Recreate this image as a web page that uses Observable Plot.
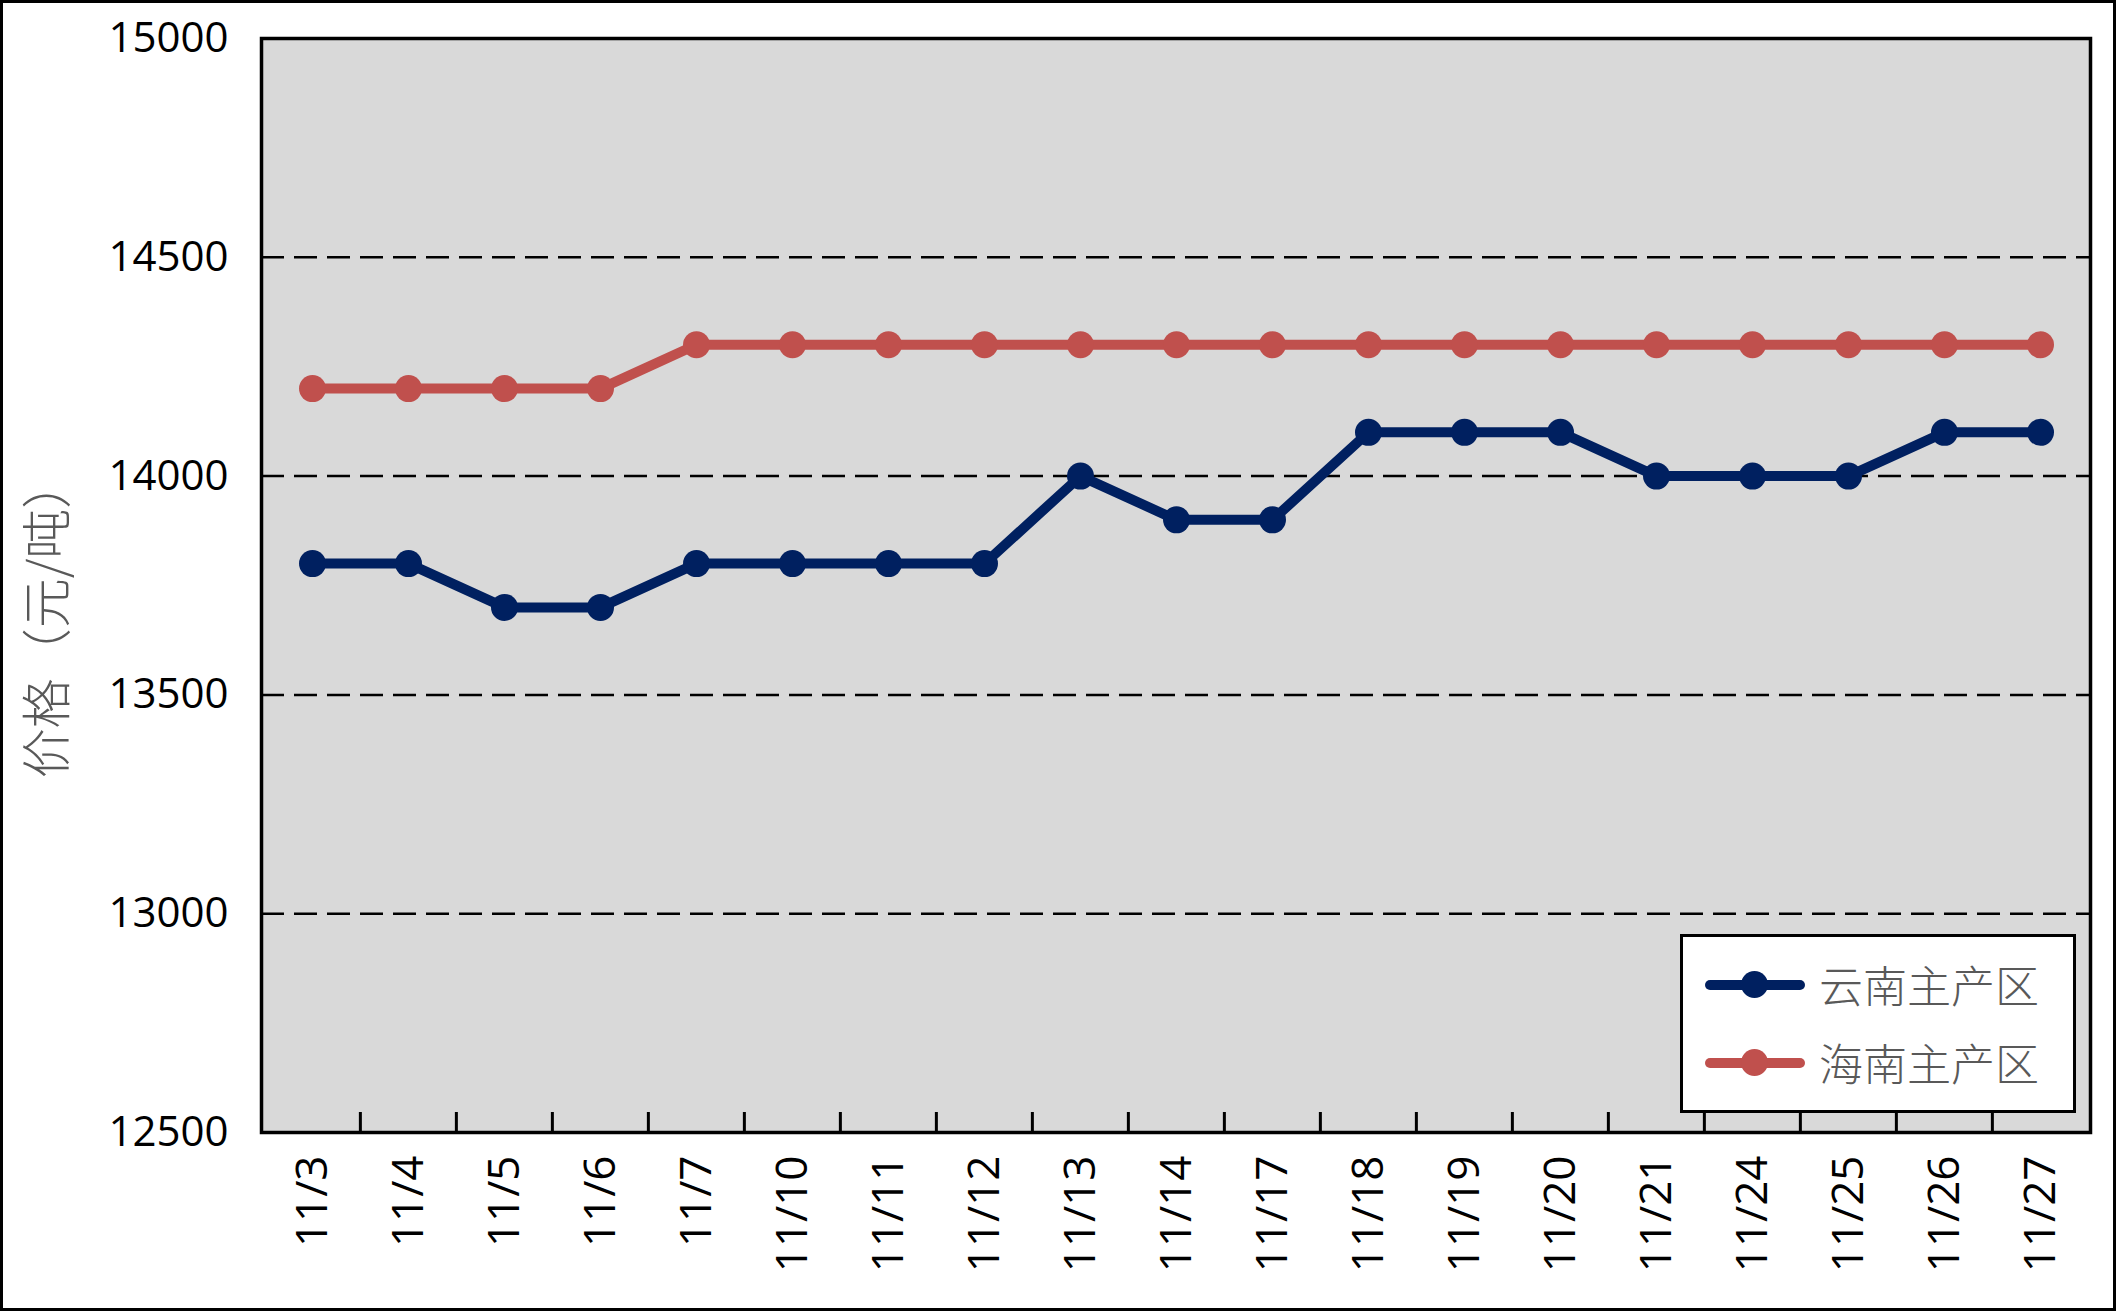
<!DOCTYPE html>
<html><head><meta charset="utf-8">
<script src="https://cdn.jsdelivr.net/npm/d3@7"></script>
<script src="https://cdn.jsdelivr.net/npm/@observablehq/plot@0.6"></script>
<style>
html,body{margin:0;padding:0;background:#fff;}
#wrap{position:relative;width:2118px;height:1313px;overflow:hidden;}
#border{position:absolute;left:0;top:0;width:2116px;height:1311px;box-sizing:border-box;border:3.5px solid #000;pointer-events:none;}
#legend{position:absolute;left:1680px;top:934px;width:396px;height:179px;box-sizing:border-box;border:3.5px solid #000;background:#fff;}
.row{position:absolute;left:0;height:0;width:100%;}
.sw{position:absolute;left:21.5px;width:100px;height:10px;border-radius:5px;top:-5px;}
.mk{position:absolute;left:58px;width:27px;height:27px;border-radius:50%;top:-13.5px;}
.lab{position:absolute;left:136px;top:-28px;font-family:"Noto Sans CJK SC";font-weight:300;font-size:44px;color:#595959;line-height:54px;white-space:nowrap;}
</style>
</head><body>
<div id="wrap"><div id="chart"></div><div id="legend"></div><div id="border"></div></div>
<script>
const dates = ["11/3","11/4","11/5","11/6","11/7","11/10","11/11","11/12","11/13","11/14","11/17","11/18","11/19","11/20","11/21","11/24","11/25","11/26","11/27"];
const yunnan = [13800,13800,13700,13700,13800,13800,13800,13800,14000,13900,13900,14100,14100,14100,14000,14000,14000,14100,14100];
const hainan = [14200,14200,14200,14200,14300,14300,14300,14300,14300,14300,14300,14300,14300,14300,14300,14300,14300,14300,14300];
const seriesNames = ["云南主产区","海南主产区"];
const seriesColors = ["#002060","#C0504D"];
const yTicks = [12500,13000,13500,14000,14500,15000];
const gridValues = [13000,13500,14000,14500];
const yTitle = "价格（元/吨）";

const W = 2118, H = 1313, mL = 261, mR = 28, mT = 38, mB = 181;
const step = (W - mL - mR) / dates.length;

const data = [];
[yunnan, hainan].forEach((vals, s) => {
  dates.forEach((d, i) => data.push({date: d, value: vals[i], series: seriesNames[s]}));
});

const chart = Plot.plot({
  width: W, height: H,
  marginLeft: mL, marginRight: mR, marginTop: mT, marginBottom: mB,
  style: {fontFamily: "'Open Sans', sans-serif", background: "transparent", color: "#000"},
  x: {type: "band", domain: dates, padding: 0, label: null},
  y: {domain: [12500, 15000], label: null},
  color: {domain: seriesNames, range: seriesColors},
  marks: [
    Plot.frame({fill: "#d9d9d9"}),
    Plot.ruleY(gridValues, {stroke: "#000", strokeWidth: 2.5, strokeDasharray: "23,10"}),
    Plot.tickX(dates.slice(1), {x: d => d, dx: -step / 2, insetTop: (H - mT - mB) - 20, stroke: "#000", strokeWidth: 3}),
    Plot.line(data, {x: "date", y: "value", z: "series", stroke: "series", strokeWidth: 10, strokeLinejoin: "round"}),
    Plot.dot(data, {x: "date", y: "value", fill: "series", r: 13.5}),
    Plot.frame({stroke: "#000", strokeWidth: 3.5}),
    Plot.axisY(yTicks, {tickSize: 0, tickPadding: 33, fontSize: 42, tickFormat: d => String(d), label: null, fill: "#000"}),
    Plot.axisX({tickSize: 0, tickPadding: 23, tickRotate: -90, fontSize: 44, label: null, fill: "#000"}),
    Plot.text([yTitle], {frameAnchor: "left", textAnchor: "middle", rotate: -90, dx: -(mL - 48), dy: 618 - (mT + (H - mT - mB) / 2), fontSize: 50, fill: "#595959", fontFamily: "Noto Sans CJK SC", fontWeight: 300})
  ]
});
document.getElementById("chart").appendChild(chart);

const legend = document.getElementById("legend");
const rowTops = [47.5, 125.5];
seriesNames.forEach((name, i) => {
  const row = document.createElement("div");
  row.className = "row";
  row.style.top = rowTops[i] + "px";
  row.innerHTML = `<div class="sw" style="background:${seriesColors[i]}"></div><div class="mk" style="background:${seriesColors[i]}"></div><div class="lab">${name}</div>`;
  legend.appendChild(row);
});
</script>
</body></html>
